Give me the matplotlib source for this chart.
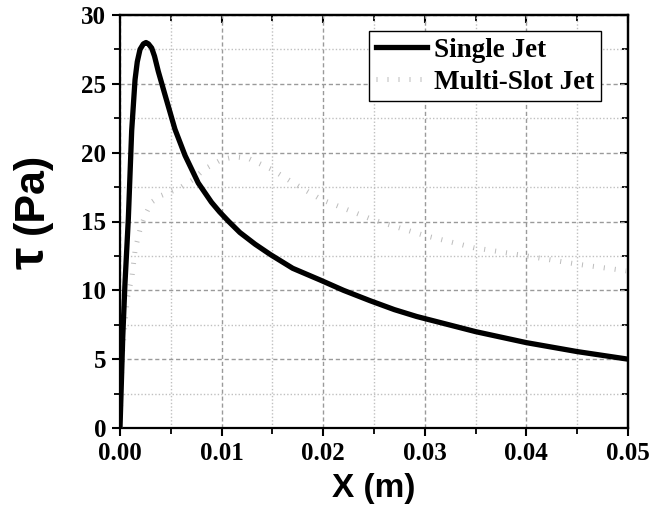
import numpy as np
import matplotlib.pyplot as plt
from matplotlib.ticker import MultipleLocator

# wall shear stress along the plate
x_single = [0.0, 0.00027, 0.00049, 0.00082, 0.00115, 0.00148, 0.0017, 0.00197, 0.0023,
            0.00256, 0.0028, 0.00312, 0.0034, 0.00377, 0.00443, 0.00541, 0.0064,
            0.0077, 0.0090, 0.0098, 0.0107, 0.0118, 0.0133, 0.0148, 0.017, 0.0197,
            0.022, 0.0246, 0.027, 0.0292, 0.035, 0.040, 0.045, 0.05]
tau_single = [0.0, 6.6, 10.5, 15.2, 21.6, 25.3, 26.6, 27.5, 27.9,
              28.0, 27.9, 27.6, 27.0, 25.9, 24.2, 21.7, 19.8,
              17.8, 16.4, 15.7, 15.0, 14.2, 13.35, 12.6, 11.6, 10.75,
              10.0, 9.25, 8.6, 8.1, 7.0, 6.2, 5.55, 5.0]

x_multi = [0.0, 0.0002, 0.00069, 0.00118, 0.0015, 0.002, 0.0025, 0.0031, 0.0041, 0.0058,
           0.0071, 0.0083, 0.010, 0.0113, 0.0126, 0.0149, 0.0175, 0.0198, 0.025,
           0.0299, 0.0348, 0.040, 0.045, 0.05]
tau_multi = [0.0, 5.0, 9.3, 11.0, 13.0, 14.5, 15.5, 16.4, 16.9, 17.4,
             18.0, 18.8, 19.5, 19.7, 19.6, 18.8, 17.6, 16.6, 15.1,
             14.0, 13.1, 12.5, 11.9, 11.4]

serif_bold = dict(family="Liberation Serif", weight="bold")
sans_bold = dict(family="Liberation Sans", weight="bold")

fig = plt.figure(figsize=(6.54, 5.12), dpi=100)
ax = fig.add_axes([120 / 654, 1 - 428 / 512, 508 / 654, 413 / 512])

ax.plot(x_single, tau_single, color="black", lw=3.8, label="Single Jet",
        solid_joinstyle="round", zorder=4)
ax.plot(x_multi, tau_multi, color="#bdbdbd", lw=3.6, dashes=(0.2, 2.0),
        dash_capstyle="butt", label="Multi-Slot Jet", zorder=3)

ax.set_xlim(0, 0.05)
ax.set_ylim(0, 30)
ax.xaxis.set_major_locator(MultipleLocator(0.01))
ax.xaxis.set_minor_locator(MultipleLocator(0.005))
ax.yaxis.set_major_locator(MultipleLocator(5))
ax.yaxis.set_minor_locator(MultipleLocator(2.5))
ax.xaxis.set_major_formatter(lambda v, p: f"{v:.2f}")

ax.grid(which="major", color="#9a9a9a", lw=1.0, dashes=(3, 2))
ax.grid(which="minor", color="#c0c0c0", lw=1.0, dashes=(1, 1.5))
ax.set_axisbelow(True)

for s in ax.spines.values():
    s.set_linewidth(1.6)
ax.tick_params(which="major", direction="out", length=6, width=1.5, pad=4)
ax.tick_params(which="minor", direction="out", length=4, width=1.3)
for lab in ax.get_xticklabels() + ax.get_yticklabels():
    lab.set_fontsize(18)
    lab.set_fontfamily("Liberation Serif")
    lab.set_fontweight("bold")

# inward ticks on top and right
top = ax.secondary_xaxis("top")
right = ax.secondary_yaxis("right")
top.xaxis.set_major_locator(MultipleLocator(0.01))
top.xaxis.set_minor_locator(MultipleLocator(0.005))
right.yaxis.set_major_locator(MultipleLocator(5))
right.yaxis.set_minor_locator(MultipleLocator(2.5))
for sec in (top, right):
    sec.tick_params(which="major", direction="in", length=6, width=1.5,
                    labeltop=False, labelright=False)
    sec.tick_params(which="minor", direction="in", length=4, width=1.3)
    for s in sec.spines.values():
        s.set_linewidth(1.6)
top.set_xticklabels([])
right.set_yticklabels([])

ax.set_xlabel("X (m)", fontsize=24, labelpad=6, **sans_bold)
fig.text(32 / 654, 1 - 193 / 512, "(Pa)", rotation=90, ha="center", va="center",
         fontsize=31, **sans_bold)
fig.text(31 / 654, 1 - 258 / 512, "τ", rotation=90, ha="center", va="center",
         fontsize=36, **sans_bold)

leg = ax.legend(loc="upper right", bbox_to_anchor=(601 / 654, 1 - 31 / 512),
                bbox_transform=fig.transFigure, prop=dict(size=19.5, **serif_bold),
                handlelength=1.9, handletextpad=0.25, borderpad=0.25,
                labelspacing=0.25, borderaxespad=0, fancybox=False, framealpha=1)
leg.get_frame().set_edgecolor("black")
leg.get_frame().set_linewidth(1.0)

fig.savefig("out.png", dpi=100)
